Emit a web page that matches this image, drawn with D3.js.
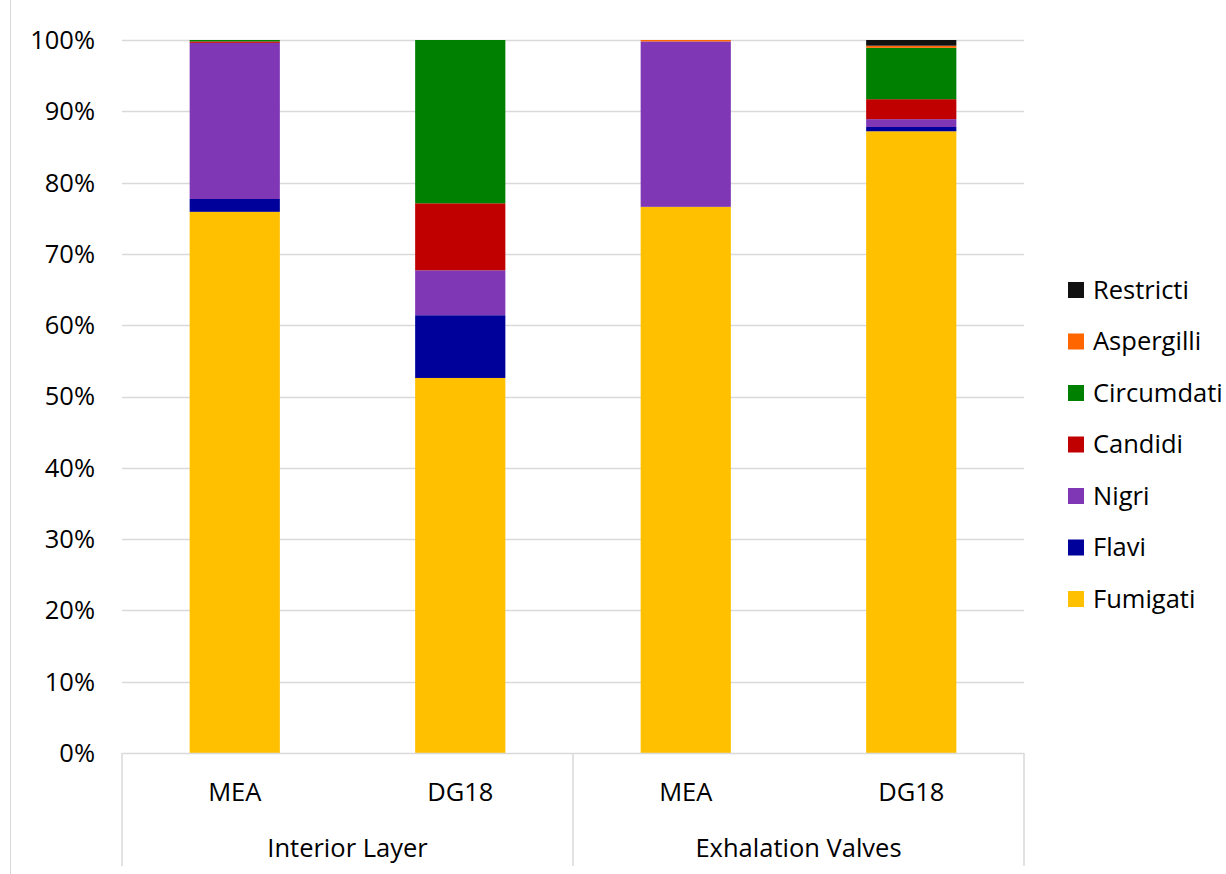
<!DOCTYPE html>
<html>
<head>
<meta charset="utf-8">
<script src="https://cdn.jsdelivr.net/npm/d3@7"></script>
<style>
  body { margin: 0; background: #fff; }
  text { font-family: "Open Sans", "Noto Sans", sans-serif; fill: #000; }
</style>
</head>
<body>
<div id="chart"></div>
<script>
// categories (bottom level, group level)
const bars = ['MEA', 'DG18', 'MEA', 'DG18'];
const groups = ['Interior Layer', 'Exhalation Valves'];
const series = ['Fumigati', 'Flavi', 'Nigri', 'Candidi', 'Circumdati', 'Aspergilli', 'Restricti'];
const colors = ['#FFC000', '#00009A', '#7F37B6', '#C00000', '#008000', '#FF6600', '#111111'];

// percent values per series, one per bar
const fumigati   = [75.9, 52.6, 76.6, 87.2];
const flavi      = [1.8, 8.8, 0, 0.6];
const nigri      = [21.9, 6.3, 23.2, 1.1];
const candidi    = [0.2, 9.4, 0, 2.8];
const circumdati = [0.2, 22.9, 0, 7.2];
const aspergilli = [0, 0, 0.2, 0.3];
const restricti  = [0, 0, 0, 0.8];

const yTicks = [0, 10, 20, 30, 40, 50, 60, 70, 80, 90, 100];

const width = 1226, height = 874;
const m = { left: 122, right: 1024, top: 40, bottom: 753 };
const fs = '25.5px';

const svg = d3.select('#chart').append('svg')
  .attr('width', width).attr('height', height);

const table = bars.map((b, i) => ({
  key: i,
  Fumigati: fumigati[i], Flavi: flavi[i], Nigri: nigri[i], Candidi: candidi[i],
  Circumdati: circumdati[i], Aspergilli: aspergilli[i], Restricti: restricti[i]
}));
const stacked = d3.stack().keys(series)(table);

const x = d3.scaleBand().domain(d3.range(bars.length))
  .range([m.left, m.right]).paddingInner(0.6).paddingOuter(0.3);
const y = d3.scaleLinear().domain([0, 100]).range([m.bottom, m.top]);

// frame edge on the left
svg.append('line').attr('x1', 10.5).attr('x2', 10.5).attr('y1', 0).attr('y2', height)
  .attr('stroke', '#d9d9d9');

// grid
svg.append('g').selectAll('line').data(yTicks.filter(d => d > 0)).enter()
  .append('line')
  .attr('x1', m.left).attr('x2', m.right)
  .attr('y1', d => Math.round(y(d)) + 0.5).attr('y2', d => Math.round(y(d)) + 0.5)
  .attr('stroke', '#d9d9d9').attr('stroke-width', 1.5);

// y labels
svg.append('g').selectAll('text').data(yTicks).enter()
  .append('text')
  .attr('x', 95).attr('y', d => y(d)).attr('dy', '0.35em')
  .attr('text-anchor', 'end').style('font-size', fs)
  .text(d => d + '%');

// bars
svg.append('g').selectAll('g').data(stacked).enter()
  .append('g').attr('fill', (d, i) => colors[i])
  .selectAll('rect').data(d => d).enter()
  .append('rect')
  .attr('x', (d, i) => x(i))
  .attr('width', x.bandwidth())
  .attr('y', d => y(d[1]))
  .attr('height', d => y(d[0]) - y(d[1]));

// category axis
const ax = svg.append('g').attr('stroke', '#d9d9d9').attr('stroke-width', 1.5);
ax.append('line').attr('x1', m.left).attr('x2', m.right)
  .attr('y1', m.bottom + 0.5).attr('y2', m.bottom + 0.5);
const groupW = (m.right - m.left) / groups.length;
d3.range(groups.length + 1).forEach(i => {
  ax.append('line')
    .attr('x1', m.left + i * groupW).attr('x2', m.left + i * groupW)
    .attr('y1', m.bottom).attr('y2', 866);
});

svg.append('g').selectAll('text').data(bars).enter()
  .append('text')
  .attr('x', (d, i) => x(i) + x.bandwidth() / 2).attr('y', 801)
  .attr('text-anchor', 'middle').style('font-size', fs)
  .text(d => d);

svg.append('g').selectAll('text').data(groups).enter()
  .append('text')
  .attr('x', (d, i) => m.left + (i + 0.5) * groupW).attr('y', 857)
  .attr('text-anchor', 'middle').style('font-size', fs)
  .text(d => d);

// legend, top to bottom in reverse order
const legend = svg.append('g').selectAll('g').data(series.slice().reverse()).enter()
  .append('g').attr('transform', (d, i) => `translate(1068,${290 + i * 51.5})`);
legend.append('rect').attr('x', 0).attr('y', -8).attr('width', 16).attr('height', 16)
  .attr('fill', d => colors[series.indexOf(d)]);
legend.append('text').attr('x', 25).attr('y', 0).attr('dy', '0.35em')
  .style('font-size', fs).text(d => d);
</script>
</body>
</html>
